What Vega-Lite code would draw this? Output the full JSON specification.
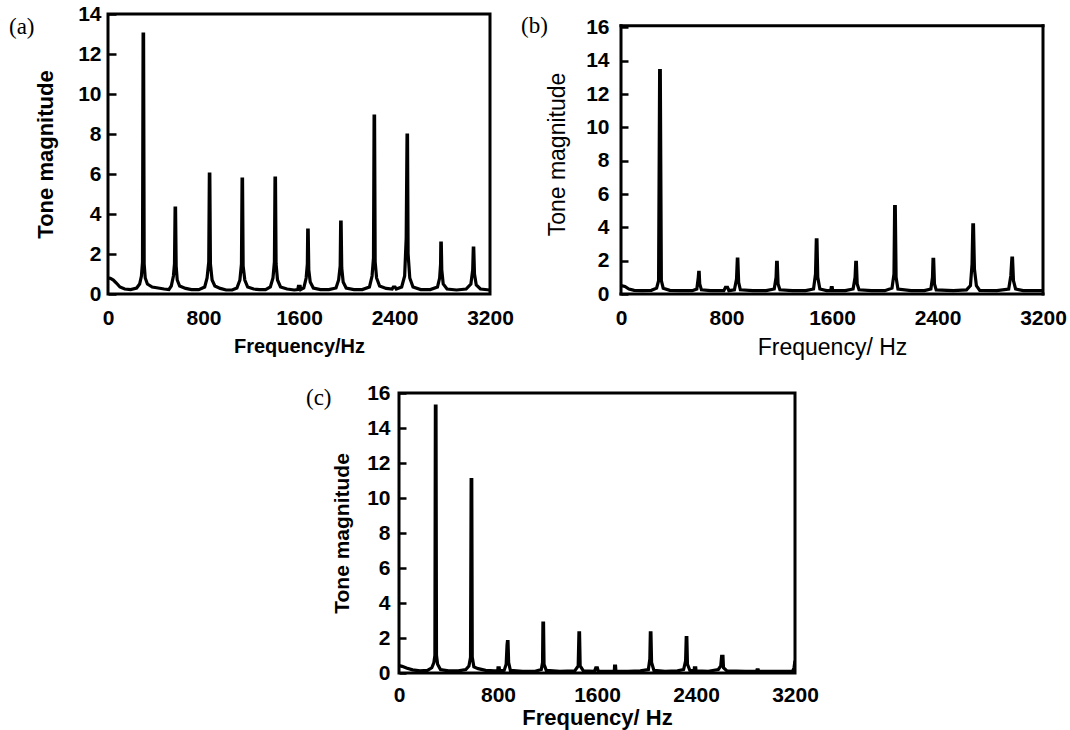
{
"$schema": "https://vega.github.io/schema/vega-lite/v6.json",
"padding": {"left": 7, "top": 1, "right": 5, "bottom": 5},
"config": {
 "view": {"stroke": "black", "strokeWidth": 3},
 "font": "Liberation Sans",
 "axis": {"domain": false, "grid": false, "labelFont": "Liberation Sans", "labelFontSize": 21, "labelFontWeight": "bold", "labelColor": "black", "titleColor": "black", "titleFont": "Liberation Sans", "tickColor": "black", "tickWidth": 2.5, "labelFlush": false, "labelOverlap": false},
 "axisX": {"ticks": false},
 "title": {"anchor": "start", "frame": "group", "offset": 0, "baseline": "alphabetic", "font": "Liberation Serif", "fontSize": 23, "fontWeight": "normal", "color": "black"}
},
"datasets": {
 "a": [{"f":0,"m":0.8},{"f":20,"m":0.78},{"f":45,"m":0.7},{"f":70,"m":0.55},{"f":100,"m":0.35},{"f":140,"m":0.25},{"f":190,"m":0.22},{"f":240,"m":0.3},{"f":265,"m":0.5},{"f":280,"m":0.9},{"f":289,"m":1.6},{"f":294,"m":13.0},{"f":298,"m":13.0},{"f":303,"m":1.5},{"f":312,"m":0.8},{"f":330,"m":0.5},{"f":370,"m":0.35},{"f":420,"m":0.3},{"f":470,"m":0.25},{"f":510,"m":0.22},{"f":530,"m":0.4},{"f":548,"m":0.9},{"f":557,"m":1.5},{"f":562,"m":4.3},{"f":566,"m":4.3},{"f":571,"m":1.4},{"f":580,"m":0.7},{"f":600,"m":0.4},{"f":650,"m":0.28},{"f":700,"m":0.22},{"f":760,"m":0.22},{"f":810,"m":0.35},{"f":830,"m":0.8},{"f":844,"m":1.6},{"f":849,"m":6.0},{"f":853,"m":6.0},{"f":858,"m":1.5},{"f":872,"m":0.7},{"f":895,"m":0.4},{"f":940,"m":0.28},{"f":990,"m":0.2},{"f":1040,"m":0.2},{"f":1080,"m":0.3},{"f":1105,"m":0.7},{"f":1118,"m":1.5},{"f":1123,"m":5.75},{"f":1127,"m":5.75},{"f":1132,"m":1.4},{"f":1146,"m":0.7},{"f":1170,"m":0.35},{"f":1220,"m":0.25},{"f":1270,"m":0.22},{"f":1320,"m":0.22},{"f":1360,"m":0.35},{"f":1382,"m":0.8},{"f":1394,"m":1.6},{"f":1399,"m":5.8},{"f":1403,"m":5.8},{"f":1408,"m":1.5},{"f":1420,"m":0.7},{"f":1445,"m":0.35},{"f":1500,"m":0.25},{"f":1560,"m":0.2},{"f":1590,"m":0.22},{"f":1595,"m":0.38},{"f":1610,"m":0.38},{"f":1615,"m":0.22},{"f":1640,"m":0.3},{"f":1660,"m":0.8},{"f":1670,"m":1.5},{"f":1673,"m":3.2},{"f":1677,"m":3.2},{"f":1682,"m":1.2},{"f":1694,"m":0.6},{"f":1720,"m":0.3},{"f":1780,"m":0.22},{"f":1850,"m":0.22},{"f":1910,"m":0.3},{"f":1932,"m":0.7},{"f":1945,"m":1.4},{"f":1949,"m":3.6},{"f":1953,"m":3.6},{"f":1958,"m":1.3},{"f":1970,"m":0.6},{"f":1995,"m":0.3},{"f":2060,"m":0.22},{"f":2130,"m":0.22},{"f":2190,"m":0.35},{"f":2212,"m":0.9},{"f":2224,"m":1.8},{"f":2229,"m":8.9},{"f":2233,"m":8.9},{"f":2238,"m":1.6},{"f":2250,"m":0.8},{"f":2275,"m":0.4},{"f":2330,"m":0.28},{"f":2380,"m":0.25},{"f":2390,"m":0.35},{"f":2405,"m":0.35},{"f":2415,"m":0.25},{"f":2460,"m":0.35},{"f":2485,"m":0.9},{"f":2498,"m":2.8},{"f":2505,"m":7.95},{"f":2509,"m":7.95},{"f":2514,"m":2.0},{"f":2528,"m":0.8},{"f":2555,"m":0.35},{"f":2620,"m":0.22},{"f":2700,"m":0.22},{"f":2760,"m":0.35},{"f":2778,"m":0.8},{"f":2786,"m":1.5},{"f":2788,"m":2.55},{"f":2792,"m":2.55},{"f":2796,"m":1.2},{"f":2808,"m":0.5},{"f":2840,"m":0.25},{"f":2920,"m":0.2},{"f":3000,"m":0.25},{"f":3040,"m":0.5},{"f":3055,"m":1.2},{"f":3060,"m":2.3},{"f":3064,"m":2.3},{"f":3070,"m":1.0},{"f":3085,"m":0.45},{"f":3120,"m":0.25},{"f":3200,"m":0.2}],
 "b": [{"f":0,"m":0.5},{"f":30,"m":0.45},{"f":60,"m":0.3},{"f":100,"m":0.22},{"f":160,"m":0.2},{"f":230,"m":0.22},{"f":270,"m":0.35},{"f":285,"m":0.8},{"f":293,"m":13.4},{"f":298,"m":13.4},{"f":306,"m":0.8},{"f":320,"m":0.35},{"f":370,"m":0.22},{"f":450,"m":0.2},{"f":540,"m":0.2},{"f":575,"m":0.3},{"f":586,"m":1.0},{"f":589,"m":1.3},{"f":593,"m":1.3},{"f":597,"m":0.6},{"f":610,"m":0.25},{"f":680,"m":0.2},{"f":780,"m":0.2},{"f":792,"m":0.4},{"f":808,"m":0.4},{"f":818,"m":0.2},{"f":860,"m":0.25},{"f":876,"m":0.9},{"f":882,"m":2.1},{"f":886,"m":2.1},{"f":892,"m":0.7},{"f":905,"m":0.25},{"f":1000,"m":0.2},{"f":1100,"m":0.2},{"f":1162,"m":0.3},{"f":1176,"m":1.0},{"f":1180,"m":1.9},{"f":1185,"m":1.9},{"f":1191,"m":0.6},{"f":1205,"m":0.25},{"f":1300,"m":0.2},{"f":1400,"m":0.2},{"f":1460,"m":0.3},{"f":1475,"m":1.2},{"f":1481,"m":3.25},{"f":1486,"m":3.25},{"f":1492,"m":1.0},{"f":1508,"m":0.3},{"f":1560,"m":0.2},{"f":1590,"m":0.2},{"f":1594,"m":0.38},{"f":1602,"m":0.38},{"f":1606,"m":0.2},{"f":1700,"m":0.2},{"f":1760,"m":0.3},{"f":1775,"m":1.0},{"f":1780,"m":1.9},{"f":1785,"m":1.9},{"f":1791,"m":0.6},{"f":1805,"m":0.25},{"f":1900,"m":0.2},{"f":2000,"m":0.2},{"f":2055,"m":0.35},{"f":2070,"m":1.2},{"f":2075,"m":5.24},{"f":2080,"m":5.24},{"f":2086,"m":1.0},{"f":2100,"m":0.3},{"f":2200,"m":0.2},{"f":2300,"m":0.2},{"f":2350,"m":0.3},{"f":2362,"m":1.0},{"f":2366,"m":2.08},{"f":2371,"m":2.08},{"f":2377,"m":0.6},{"f":2390,"m":0.25},{"f":2520,"m":0.2},{"f":2620,"m":0.25},{"f":2650,"m":0.5},{"f":2662,"m":1.8},{"f":2668,"m":4.15},{"f":2673,"m":4.15},{"f":2680,"m":1.5},{"f":2695,"m":0.5},{"f":2720,"m":0.22},{"f":2850,"m":0.2},{"f":2940,"m":0.3},{"f":2956,"m":1.1},{"f":2964,"m":2.15},{"f":2969,"m":2.15},{"f":2976,"m":0.8},{"f":2992,"m":0.3},{"f":3050,"m":0.2},{"f":3200,"m":0.2}],
 "c": [{"f":0,"m":0.42},{"f":25,"m":0.38},{"f":60,"m":0.28},{"f":110,"m":0.18},{"f":170,"m":0.12},{"f":230,"m":0.15},{"f":265,"m":0.3},{"f":282,"m":0.6},{"f":290,"m":1.0},{"f":294,"m":15.25},{"f":299,"m":15.25},{"f":303,"m":1.0},{"f":312,"m":0.5},{"f":335,"m":0.2},{"f":400,"m":0.12},{"f":480,"m":0.12},{"f":540,"m":0.2},{"f":565,"m":0.4},{"f":578,"m":0.9},{"f":583,"m":11.05},{"f":588,"m":11.05},{"f":592,"m":0.9},{"f":605,"m":0.35},{"f":640,"m":0.25},{"f":700,"m":0.15},{"f":770,"m":0.12},{"f":798,"m":0.12},{"f":800,"m":0.3},{"f":810,"m":0.3},{"f":813,"m":0.12},{"f":850,"m":0.15},{"f":866,"m":0.5},{"f":873,"m":1.6},{"f":876,"m":1.8},{"f":881,"m":1.8},{"f":886,"m":0.6},{"f":900,"m":0.15},{"f":1000,"m":0.1},{"f":1100,"m":0.1},{"f":1150,"m":0.2},{"f":1160,"m":0.6},{"f":1163,"m":2.85},{"f":1168,"m":2.85},{"f":1172,"m":0.5},{"f":1190,"m":0.15},{"f":1300,"m":0.1},{"f":1420,"m":0.12},{"f":1448,"m":0.4},{"f":1454,"m":2.3},{"f":1459,"m":2.3},{"f":1464,"m":0.4},{"f":1490,"m":0.12},{"f":1580,"m":0.1},{"f":1590,"m":0.3},{"f":1603,"m":0.3},{"f":1610,"m":0.1},{"f":1700,"m":0.1},{"f":1740,"m":0.1},{"f":1742,"m":0.4},{"f":1750,"m":0.4},{"f":1753,"m":0.1},{"f":1850,"m":0.1},{"f":1950,"m":0.12},{"f":2015,"m":0.2},{"f":2027,"m":0.8},{"f":2031,"m":2.3},{"f":2036,"m":2.3},{"f":2041,"m":0.6},{"f":2060,"m":0.15},{"f":2150,"m":0.1},{"f":2250,"m":0.12},{"f":2300,"m":0.2},{"f":2316,"m":0.7},{"f":2321,"m":2.03},{"f":2326,"m":2.03},{"f":2331,"m":0.5},{"f":2350,"m":0.15},{"f":2385,"m":0.12},{"f":2387,"m":0.3},{"f":2398,"m":0.3},{"f":2400,"m":0.12},{"f":2500,"m":0.1},{"f":2580,"m":0.2},{"f":2600,"m":0.4},{"f":2607,"m":0.95},{"f":2618,"m":0.95},{"f":2622,"m":0.3},{"f":2650,"m":0.12},{"f":2800,"m":0.1},{"f":2890,"m":0.1},{"f":2893,"m":0.18},{"f":2903,"m":0.18},{"f":2906,"m":0.1},{"f":3050,"m":0.1},{"f":3180,"m":0.1},{"f":3192,"m":0.3},{"f":3200,"m":0.7}]
},
"spacing": 21,
"vconcat": [
 {
  "spacing": 6,
  "hconcat": [
   {
    "width": 382, "height": 280,
    "title": {"text": "(a)", "dx": -99, "dy": 40},
    "data": {"name": "a"},
    "mark": {"type": "line", "color": "black", "strokeWidth": 3.2, "clip": true},
    "encoding": {
     "x": {"field": "f", "type": "quantitative", "scale": {"domain": [0, 3200], "nice": false, "zero": false},
           "axis": {"values": [0, 800, 1600, 2400, 3200], "format": "d", "title": "Frequency/Hz", "titleFontSize": 20, "titleFontWeight": "bold", "labelPadding": 13, "titlePadding": 8}},
     "y": {"field": "m", "type": "quantitative", "scale": {"domain": [0, 14], "nice": false},
           "axis": {"values": [0, 2, 4, 6, 8, 10, 12, 14], "format": "d", "title": "Tone magnitude", "titleFontSize": 22, "titleFontWeight": "bold", "tickSize": -8, "labelPadding": 15, "titlePadding": 20}}
    }
   },
   {
    "width": 422, "height": 280,
    "view": {"stroke": null},
    "title": {"text": "(b)", "dx": -100, "dy": 28},
    "layer": [
     {
      "data": {"name": "b"},
      "mark": {"type": "line", "color": "black", "strokeWidth": 3.2, "clip": true},
      "encoding": {
       "x": {"field": "f", "type": "quantitative", "scale": {"domain": [0, 3200], "nice": false, "zero": false},
             "axis": {"values": [0, 800, 1600, 2400, 3200], "format": "d", "title": "Frequency/ Hz", "titleFontSize": 23, "titleFontWeight": "normal", "labelPadding": 13, "titlePadding": 8}},
       "y": {"field": "m", "type": "quantitative", "scale": {"domain": [0, 16.8], "nice": false},
             "axis": {"values": [0, 2, 4, 6, 8, 10, 12, 14, 16], "format": "d", "title": "Tone magnitude", "titleFontSize": 23, "titleFontWeight": "normal", "tickSize": -7, "labelPadding": 19, "titlePadding": 16}}
      }
     },
     {
      "data": {"values": [{"frame": "top"}]},
      "mark": {"type": "rule", "color": "black", "strokeWidth": 3, "strokeCap": "square"},
      "encoding": {
       "x": {"datum": 0, "type": "quantitative", "axis": {"values": [0, 800, 1600, 2400, 3200], "format": "d", "title": "Frequency/ Hz", "titleFontSize": 23, "titleFontWeight": "normal", "labelPadding": 13, "titlePadding": 8}},
       "x2": {"datum": 3200},
       "y": {"datum": 16.1, "type": "quantitative", "axis": {"values": [0, 2, 4, 6, 8, 10, 12, 14, 16], "format": "d", "title": "Tone magnitude", "titleFontSize": 23, "titleFontWeight": "normal", "tickSize": -7, "labelPadding": 19, "titlePadding": 16}}
      }
     },
     {
      "data": {"values": [{"frame": "bottom"}]},
      "mark": {"type": "rule", "color": "black", "strokeWidth": 3, "strokeCap": "square"},
      "encoding": {
       "x": {"datum": 0, "type": "quantitative", "axis": {"values": [0, 800, 1600, 2400, 3200], "format": "d", "title": "Frequency/ Hz", "titleFontSize": 23, "titleFontWeight": "normal", "labelPadding": 13, "titlePadding": 8}},
       "x2": {"datum": 3200},
       "y": {"datum": 0, "type": "quantitative", "axis": {"values": [0, 2, 4, 6, 8, 10, 12, 14, 16], "format": "d", "title": "Tone magnitude", "titleFontSize": 23, "titleFontWeight": "normal", "tickSize": -7, "labelPadding": 19, "titlePadding": 16}}
      }
     },
     {
      "data": {"values": [{"frame": "left"}]},
      "mark": {"type": "rule", "color": "black", "strokeWidth": 3, "strokeCap": "square"},
      "encoding": {
       "x": {"datum": 0, "type": "quantitative", "axis": {"values": [0, 800, 1600, 2400, 3200], "format": "d", "title": "Frequency/ Hz", "titleFontSize": 23, "titleFontWeight": "normal", "labelPadding": 13, "titlePadding": 8}},
       "y": {"datum": 0, "type": "quantitative", "axis": {"values": [0, 2, 4, 6, 8, 10, 12, 14, 16], "format": "d", "title": "Tone magnitude", "titleFontSize": 23, "titleFontWeight": "normal", "tickSize": -7, "labelPadding": 19, "titlePadding": 16}},
       "y2": {"datum": 16.1}
      }
     },
     {
      "data": {"values": [{"frame": "right"}]},
      "mark": {"type": "rule", "color": "black", "strokeWidth": 3, "strokeCap": "square"},
      "encoding": {
       "x": {"datum": 3200, "type": "quantitative", "axis": {"values": [0, 800, 1600, 2400, 3200], "format": "d", "title": "Frequency/ Hz", "titleFontSize": 23, "titleFontWeight": "normal", "labelPadding": 13, "titlePadding": 8}},
       "y": {"datum": 0, "type": "quantitative", "axis": {"values": [0, 2, 4, 6, 8, 10, 12, 14, 16], "format": "d", "title": "Tone magnitude", "titleFontSize": 23, "titleFontWeight": "normal", "tickSize": -7, "labelPadding": 19, "titlePadding": 16}},
       "y2": {"datum": 16.1}
      }
     }
    ]
   }
  ]
 },
 {
  "spacing": 96,
  "hconcat": [
   {
    "width": 100, "height": 1,
    "view": {"stroke": null},
    "data": {"values": []},
    "mark": "point"
   },
   {
    "width": 396, "height": 280,
    "title": {"text": "(c)", "dx": -93, "dy": 32},
    "data": {"name": "c"},
    "mark": {"type": "line", "color": "black", "strokeWidth": 3.2, "clip": true},
    "encoding": {
     "x": {"field": "f", "type": "quantitative", "scale": {"domain": [0, 3200], "nice": false, "zero": false},
           "axis": {"values": [0, 800, 1600, 2400, 3200], "format": "d", "title": "Frequency/ Hz", "titleFontSize": 22, "titleFontWeight": "bold", "labelPadding": 11, "titlePadding": 2}},
     "y": {"field": "m", "type": "quantitative", "scale": {"domain": [0, 16], "nice": false},
           "axis": {"values": [0, 2, 4, 6, 8, 10, 12, 14, 16], "format": "d", "title": "Tone magnitude", "titleFontSize": 21, "titleFontWeight": "bold", "tickSize": -7, "labelPadding": 16, "titlePadding": 14}}
    }
   }
  ]
 }
]
}
